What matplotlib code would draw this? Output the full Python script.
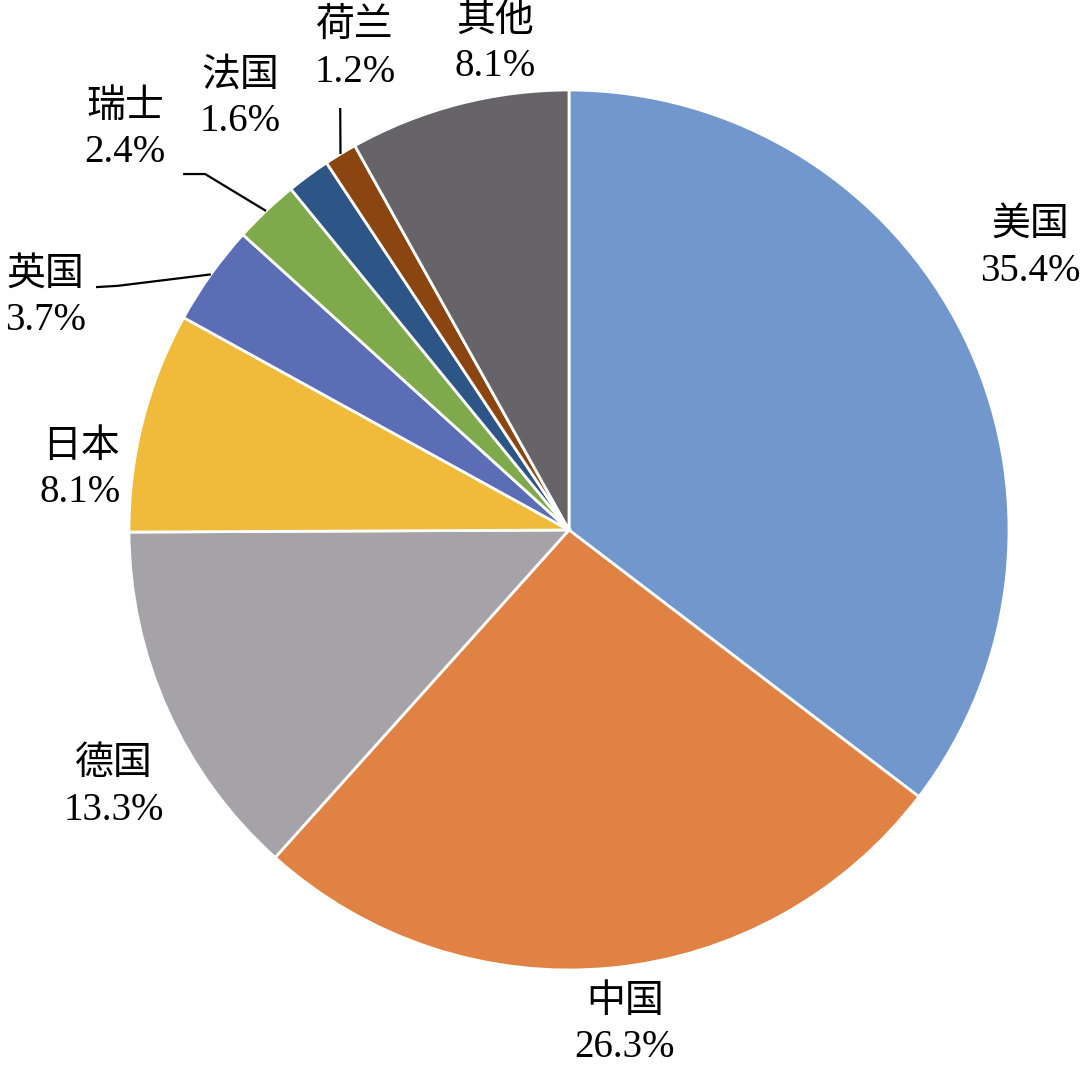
import matplotlib
matplotlib.use('Agg')
from matplotlib import pyplot as plt
import numpy as np

plt.rcParams['font.family'] = ['Liberation Serif', 'Noto Sans CJK SC', 'DejaVu Sans']

countries = ['美国', '中国', '德国', '日本', '英国', '瑞士', '法国', '荷兰', '其他']
shares = [35.4, 26.3, 13.3, 8.1, 3.7, 2.4, 1.6, 1.2, 8.1]
colors = ['#7297CC', '#E08244', '#A5A3A8', '#F0BA3B', '#5A6DB5',
          '#7EAA4B', '#2D5687', '#8B4511', '#666468']

# label centres (pie radius = 1)
label_pos = {
    '美国': (1.048, 0.640), '中国': (0.127, -1.125), '德国': (-1.035, -0.585),
    '日本': (-1.110, 0.136), '英国': (-1.190, 0.527), '瑞士': (-1.009, 0.909),
    '法国': (-0.748, 0.980), '荷兰': (-0.486, 1.091), '其他': (-0.168, 1.105),
}
# leader lines: start point near text and elbow, ending on the wedge edge
leaders = {
    '英国': [(-1.075, 0.552), (-1.025, 0.555)],
    '瑞士': [(-0.877, 0.809), (-0.827, 0.809)],
    '荷兰': [(-0.520, 0.959)],
}

fig = plt.figure(figsize=(10.8, 10.72), dpi=100)
ax = fig.add_axes([0, 0, 1, 1])
wedges, _ = ax.pie(shares, colors=colors, startangle=90, counterclock=False,
                   radius=1, wedgeprops=dict(edgecolor='white', linewidth=2))

for w, name, val in zip(wedges, countries, shares):
    x, y = label_pos[name]
    ax.text(x, y, f'{name}\n{val:.1f}%', ha='center', va='center',
            fontsize=28, linespacing=1.3, color='black')
    if name in leaders:
        mid = np.deg2rad((w.theta1 + w.theta2) / 2)
        pts = leaders[name] + [(np.cos(mid), np.sin(mid))]
        ax.plot([p[0] for p in pts], [p[1] for p in pts], color='black', lw=1.6,
                solid_capstyle='butt')

ax.set_xlim(-569 / 440, (1080 - 569) / 440)
ax.set_ylim(-(1072 - 530) / 440, 530 / 440)
ax.set_aspect('equal')
ax.axis('off')
fig.savefig('out.png', dpi=100)
